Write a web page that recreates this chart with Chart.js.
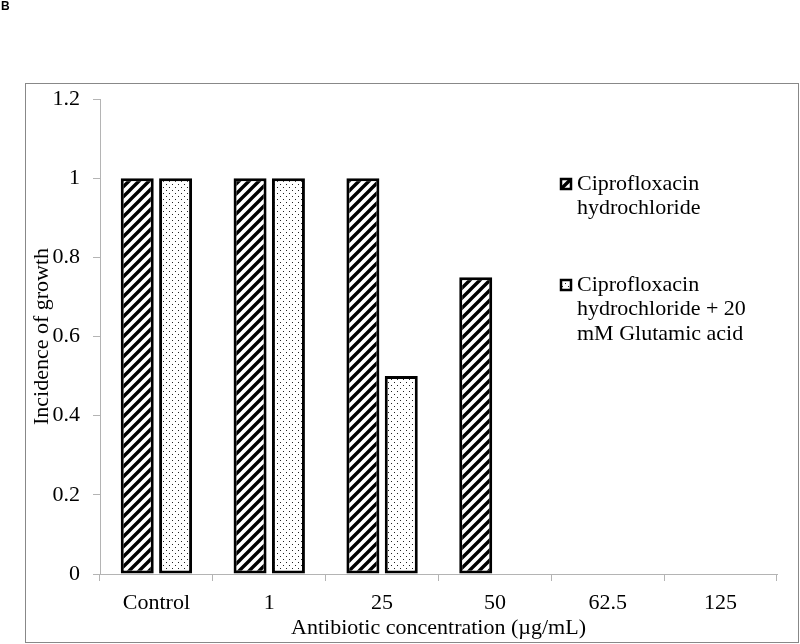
<!DOCTYPE html>
<html>
<head>
<meta charset="utf-8">
<script src="https://cdn.jsdelivr.net/npm/chart.js@4/dist/chart.umd.min.js"></script>
<style>
body{margin:0;background:#fff;}
canvas{display:block;}
</style>
</head>
<body>
<canvas id="cv" width="800" height="644"></canvas>
<script>
var categories = ['Control', '1', '25', '50', '62.5', '125'];
var cipro = [1, 1, 1, 0.75, 0, 0];
var ciproGlu = [1, 1, 0.5, 0, 0, 0];
var seriesNames = ['Ciprofloxacin hydrochloride', 'Ciprofloxacin hydrochloride + 20 mM Glutamic acid'];
var yTicks = ['0', '0.2', '0.4', '0.6', '0.8', '1', '1.2'];
var xTitle = 'Antibiotic concentration (\u00b5g/mL)';
var yTitle = 'Incidence of growth';

var serif = '"Liberation Serif", "Times New Roman", serif';

function hatch(){
	var c = document.createElement('canvas');
	c.width = 10; c.height = 10;
	var g = c.getContext('2d');
	g.fillStyle = '#fff';
	g.fillRect(0,0,10,10);
	g.strokeStyle = '#000';
	g.lineWidth = 3.4;
	g.beginPath();
	g.moveTo(-2,12); g.lineTo(12,-2);
	g.moveTo(-2,2); g.lineTo(2,-2);
	g.moveTo(8,12); g.lineTo(12,8);
	g.stroke();
	return g.createPattern(c,'repeat');
}
function dots(){
	var c = document.createElement('canvas');
	c.width = 6; c.height = 6;
	var g = c.getContext('2d');
	g.fillStyle = '#fff';
	g.fillRect(0,0,6,6);
	g.fillStyle = '#222';
	g.fillRect(1,1,1,1);
	g.fillRect(4,4,1,1);
	return g.createPattern(c,'repeat');
}
var fills = [hatch(), dots()];

//white page, frame and the panel letter
var frame = {
	id: 'frame',
	beforeDraw: function(chart){
		var ctx = chart.ctx;
		ctx.save();
		ctx.fillStyle = '#fff';
		ctx.fillRect(0,0,chart.width,chart.height);
		ctx.strokeStyle = '#888';
		ctx.lineWidth = 1;
		ctx.strokeRect(25.5,83.5,773,559);
		ctx.fillStyle = '#000';
		ctx.font = 'bold 12px "Liberation Sans", Arial, sans-serif';
		ctx.textBaseline = 'top';
		ctx.fillText('B', 1, 1);
		ctx.restore();
	}
};

//legend with wrapped labels, drawn on top of the plot
var sideLegend = {
	id: 'sideLegend',
	afterDraw: function(chart){
		var ctx = chart.ctx;
		ctx.save();
		ctx.font = '22px ' + serif;
		ctx.textBaseline = 'middle';
		var y = 184;
		chart.data.datasets.forEach(function(ds, i){
			var words = ds.label.split(' '), lines = [], cur = '';
			words.forEach(function(w){
				var t = cur ? cur + ' ' + w : w;
				if(ctx.measureText(t).width > 185 && cur){ lines.push(cur); cur = w; }
				else cur = t;
			});
			lines.push(cur);
			ctx.fillStyle = fills[i];
			ctx.fillRect(561, y-5, 10, 10);
			ctx.strokeStyle = '#000';
			ctx.lineWidth = 2.5;
			ctx.strokeRect(561, y-5, 10, 10);
			ctx.fillStyle = '#000';
			lines.forEach(function(l, k){
				ctx.fillText(l, 577, y + k*24.5);
			});
			y += lines.length*24.5 + 52;
		});
		ctx.restore();
	}
};

new Chart(document.getElementById('cv').getContext('2d'), {
	type: 'bar',
	data: {
		labels: categories,
		datasets: [{
			label: seriesNames[0],
			data: cipro,
			backgroundColor: fills[0],
			borderColor: '#000',
			borderWidth: 3,
			borderSkipped: false
		},{
			label: seriesNames[1],
			data: ciproGlu,
			backgroundColor: fills[1],
			borderColor: '#000',
			borderWidth: 3,
			borderSkipped: false
		}]
	},
	options: {
		responsive: false,
		animation: false,
		events: [],
		categoryPercentage: 0.68,
		barPercentage: 0.86,
		layout: {padding: {left: 0, top: 99, right: 23, bottom: 0}},
		plugins: {
			legend: {display: false},
			tooltip: {enabled: false}
		},
		scales: {
			x: {
				grid: {drawOnChartArea: false, drawTicks: true, tickLength: 7, color: '#b4b4b4', offset: true},
				border: {color: '#b4b4b4', width: 1},
				ticks: {color: '#000', font: {family: serif, size: 22}, padding: 9},
				title: {display: true, text: xTitle, color: '#000', font: {family: serif, size: 22}, padding: {top: 0, bottom: 3}},
				afterFit: function(s){ s.height = 70; }
			},
			y: {
				min: 0,
				max: 1.2,
				grid: {drawOnChartArea: false, drawTicks: true, tickLength: 7, color: '#b4b4b4'},
				border: {color: '#b4b4b4', width: 1},
				ticks: {
					stepSize: 0.2,
					color: '#000',
					font: {family: serif, size: 22},
					padding: 13,
					callback: function(v, i){ return yTicks[i]; }
				},
				title: {display: true, text: yTitle, color: '#000', font: {family: serif, size: 22}, padding: {top: 29, bottom: 0}},
				afterFit: function(s){ s.width = 100; }
			}
		}
	},
	plugins: [frame, sideLegend]
});
</script>
</body>
</html>
